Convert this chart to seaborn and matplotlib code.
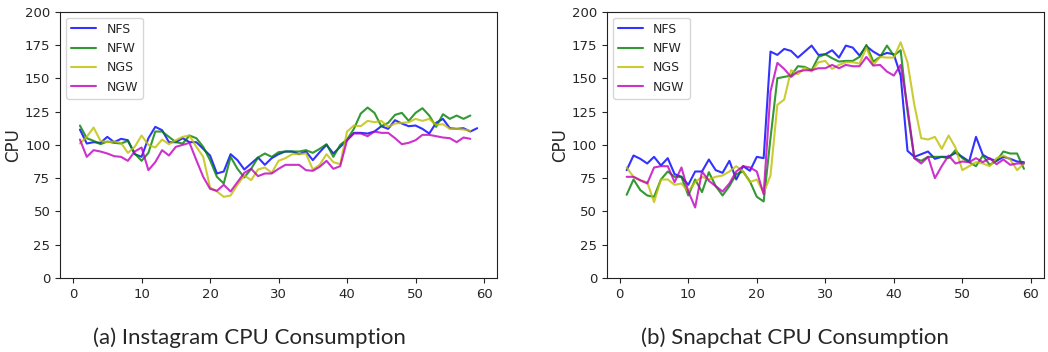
import matplotlib
matplotlib.use("Agg")
import matplotlib.pyplot as plt
import seaborn as sns

# ── Data ───────────────────────────────────────────────
series_names = ["NFS", "NFW", "NGS", "NGW"]
series_colors = ["b", "g", "y", "m"]

ig_nfs = [111.5, 101, 102, 101.5, 106, 102, 104.5, 103.5, 93, 91,
          105, 113.5, 111, 102, 102, 105, 102, 102, 97, 92,
          78.5, 80, 93, 88.5, 81.5, 86, 90.5, 85, 90, 93,
          95, 95, 93, 95, 88.5, 94.5, 100, 93.5, 98.5, 103.5,
          109, 109, 108.5, 110, 114, 112, 118.5, 116, 114, 114.5,
          112, 108.5, 116.5, 119.5, 112.5, 112, 112.5, 110, 112.5]
ig_nfw = [114.5, 105, 103, 100.5, 102.5, 101.5, 101, 103, 93.5, 88,
          94, 110, 110, 106, 102, 101, 107, 105, 98.5, 88.5,
          76, 71, 91, 82, 75.5, 82, 90.5, 93.5, 91, 94.5,
          95, 95, 95, 96, 94, 97, 100.5, 91, 100, 104,
          112, 123.5, 128, 124, 114, 116.5, 122.5, 124, 118, 124,
          127.5, 122, 113.5, 123, 119.5, 122, 119.5, 122]
ig_ngs = [101, 106, 113, 103, 102, 102.5, 101.5, 94, 98.5, 107,
          100, 98, 104, 100.5, 103.5, 106, 107, 98.5, 91, 68,
          65, 61, 62, 70, 77, 73.5, 81.5, 83, 79, 88,
          90, 93, 93, 93.5, 81.5, 85, 93, 87, 85.5, 110,
          114.5, 114, 118, 117, 118, 113.5, 116, 116.5, 117, 119.5,
          118, 119.5, 115, 115.5, 112, 112, 111.5, 110.5]
ig_ngw = [104, 91, 96, 95, 93.5, 91.5, 91, 88, 95, 98,
          81, 87, 96, 92, 98.5, 100, 101.5, 88.5, 76, 67,
          65.5, 70, 65, 72, 79, 82, 76.5, 78.5, 78.5, 82,
          85, 85, 85, 81, 80.5, 83.5, 88, 82, 84, 103.5,
          108.5, 108.5, 106.5, 110, 109, 109, 105, 100.5, 101.5, 103.5,
          107.5, 107.5, 106.5, 105.5, 105, 102, 105.5, 104.5]

sc_nfs = [81, 92, 89.5, 86, 91, 84.5, 90, 78, 76, 70,
          80, 80, 89, 81, 79, 88, 74, 84, 80.5, 91,
          90, 170, 167.5, 172, 170.5, 165.5, 170, 174.5, 167.5, 168,
          171, 165.5, 174.5, 173, 167, 174, 170, 167, 169, 168,
          152, 95.5, 91, 93, 95, 89.5, 91, 91, 94, 91,
          87.5, 106, 92.5, 89.5, 88, 91, 89.5, 87.5, 87]
sc_nfw = [62.5, 74, 66, 62, 61, 74, 80, 76, 76, 62,
          74, 64.5, 79.5, 69, 62, 69, 78, 80, 72.5, 61,
          57.5, 105, 150, 151, 152, 159, 158.5, 156, 166, 168,
          165, 162.5, 163, 163, 166, 175, 162.5, 166, 174.5, 167,
          171, 125, 90, 88, 91, 91, 91, 90, 96, 90,
          87, 84, 92, 85, 88, 95, 93.5, 93.5, 82]
sc_ngs = [83, 76, 73, 72, 57, 74, 74, 70, 71, 65,
          72, 76, 74, 76, 77, 80, 84, 80, 72, 74,
          64, 77, 130, 134, 156, 153, 158, 155, 162, 163,
          157, 160, 162, 162, 161, 173, 160, 166, 165.5, 165.5,
          177, 162, 130, 105, 104, 106, 97, 107, 98, 81,
          84, 87, 86, 84, 90, 92, 89, 81, 86]
sc_ngw = [76, 76, 73.5, 71, 83, 84, 84, 72, 83, 65,
          53, 80, 73, 69, 65, 71, 80, 84, 83, 80,
          63, 140, 161.5, 157, 151, 155, 156, 156, 157.5, 157.5,
          160, 157.5, 160, 159, 159, 166, 159.5, 160, 155, 152,
          160, 128, 90, 86, 91, 75, 84, 92, 86, 87.5,
          87, 90, 87, 90, 85.5, 89, 85, 86, 86]

panels = [
    ("(a) Instagram CPU Consumption", [ig_nfs, ig_nfw, ig_ngs, ig_ngw]),
    ("(b) Snapchat CPU Consumption", [sc_nfs, sc_nfw, sc_ngs, sc_ngw]),
]
y_ticks = [0, 25, 50, 75, 100, 125, 150, 175, 200]

# ── Setup ──────────────────────────────────────────────
sns.set_style("ticks")
plt.rcParams["font.family"] = ["DejaVu Sans"]
plt.rcParams["axes.edgecolor"] = "#222222"

fig = plt.figure(figsize=(10.48, 3.52), dpi=100)
lefts = [0.0573, 0.579]
caption_x = [0.238, 0.759]

for left, cx, (caption, data) in zip(lefts, caption_x, panels):
    ax = fig.add_axes([left, 0.21, 0.417, 0.757])
    for name, color, vals in zip(series_names, series_colors, data):
        xs = list(range(1, len(vals) + 1))
        sns.lineplot(x=xs, y=vals, ax=ax, color=color, label=name,
                     linewidth=1.5, alpha=0.8)
    ax.set_ylim(0, 200)
    ax.set_yticks(y_ticks)
    ax.set_xticks([0, 10, 20, 30, 40, 50, 60])
    ax.tick_params(labelsize=9.5, length=3.5)
    ax.set_ylabel("CPU", fontsize=12, labelpad=2)
    ax.legend(loc="upper left", fontsize=9)
    fig.text(cx, 0.04, caption, ha="center", va="center",
             fontsize=16, family=["Lato", "DejaVu Sans"])

plt.savefig("out.png", dpi=100)
plt.close()
